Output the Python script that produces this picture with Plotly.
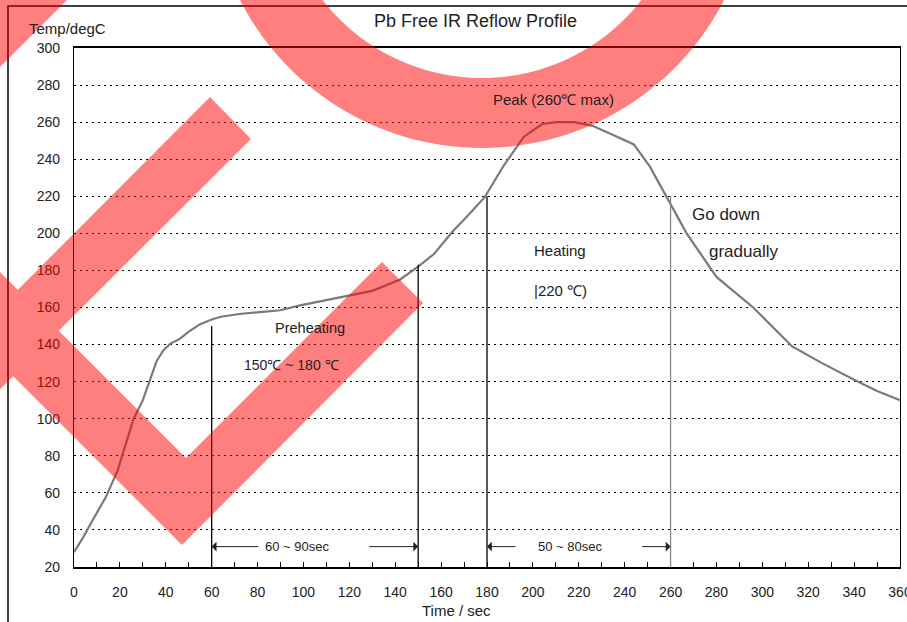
import numpy as np
import plotly.graph_objects as go

# ---- data ----
time_s = [0, 4, 8, 14, 19, 23, 26, 30, 33, 36, 39, 42, 46, 50, 55, 60, 64, 72, 81, 90,
          98, 110, 120, 130, 142, 150, 157, 165, 172, 179, 187, 196, 204, 210, 218,
          226, 235, 244, 251, 258, 267, 280, 296, 313, 326, 340, 350, 360]
temp_c = [28, 36, 45, 58, 72, 88, 100, 110, 120, 131, 137, 140.5, 143, 147, 151, 153.5,
          155, 156.5, 157.5, 158.5, 161, 164, 166.5, 169, 175, 182, 189, 201, 210,
          219.5, 236, 252, 259, 260, 260, 258, 253, 248, 236, 220, 200, 176.5, 160,
          139, 130, 121, 115, 110]

x_ticks = list(range(0, 361, 20))
y_ticks = list(range(20, 301, 20))

zone_x = [60, 150, 180, 260]
zone_top = [150, 183, 220, 220]
zone_color = ["black", "black", "black", "#888888"]

labels = ["Peak (260\u2103 max)", "Preheating", "150\u2103 ~ 180 \u2103", "Heating",
          "|220 \u2103)", "Go down", "gradually"]
label_x = [209, 103, 95, 212, 212, 284, 292]
label_y = [272, 149, 129, 191, 169, 210, 190]
label_size = [15, 14.5, 14, 15, 15, 17, 17]

span_text = ["60 ~ 90sec", "50 ~ 80sec"]
span_text_x = [97, 216]
span_start = [60, 180]
span_end = [150, 260]
span_left_tail = [81, 193]
span_right_tail = [128, 247]
span_y = 31

# ---- geometry ----
W, H = 907, 622
ML, MR, MT, MB = 74, 7, 48, 55
PW, PH = W - ML - MR, H - MT - MB


def px(x):
    return (x - ML) / PW


def py(y):
    return 1 - (y - MT) / PH


def orient(points, ccw):
    a = 0.0
    for (x1, y1), (x2, y2) in zip(points, points[1:] + points[:1]):
        a += x1 * y2 - x2 * y1
    return points if (a > 0) == ccw else points[::-1]


def poly(points):
    return "M " + " L ".join(f"{px(a):.5f},{py(b):.5f}" for a, b in points) + " Z"


fig = go.Figure()
fig.add_trace(go.Scatter(x=time_s, y=temp_c, mode="lines",
                         line=dict(color="#7a7a7a", width=2.2), showlegend=False,
                         hoverinfo="skip"))

shapes = []
for xv, top, col in zip(zone_x, zone_top, zone_color):
    shapes.append(dict(type="line", xref="x", yref="y", x0=xv, x1=xv, y0=20, y1=top,
                       line=dict(color=col, width=1.3)))

# outer frame (top and left edges visible, others off-canvas)
shapes.append(dict(type="rect", xref="paper", yref="paper", x0=px(8), x1=px(960),
                   y0=py(6), y1=py(680), line=dict(color="black", width=1.5),
                   fillcolor="rgba(0,0,0,0)", layer="above"))

FONT = "Liberation Sans, Arial"
annotations = []
for t, xv, yv, s in zip(labels, label_x, label_y, label_size):
    annotations.append(dict(x=xv, y=yv, xref="x", yref="y", text=t, showarrow=False,
                            font=dict(size=s, color="#222222", family=FONT)))
for t, xt, a, b, lt, rt in zip(span_text, span_text_x, span_start, span_end,
                               span_left_tail, span_right_tail):
    annotations.append(dict(x=xt, y=span_y, xref="x", yref="y", text=t, showarrow=False,
                            font=dict(size=13, color="#222222", family=FONT)))
    annotations.append(dict(x=a, y=span_y, ax=lt, ay=span_y, xref="x", yref="y",
                            axref="x", ayref="y", text="", showarrow=True, arrowhead=1,
                            arrowsize=1.6, arrowwidth=1, arrowcolor="#222222"))
    annotations.append(dict(x=b, y=span_y, ax=rt, ay=span_y, xref="x", yref="y",
                            axref="x", ayref="y", text="", showarrow=True, arrowhead=1,
                            arrowsize=1.6, arrowwidth=1, arrowcolor="#222222"))

for t, xx, yy, s in [("Pb Free IR Reflow Profile", 475, 21, 18),
                     ("Temp/degC", 67, 28, 15),
                     ("Time / sec", 456, 610, 15)]:
    annotations.append(dict(x=px(xx), y=py(yy), xref="paper", yref="paper", text=t,
                            showarrow=False, xanchor="center", yanchor="middle",
                            font=dict(size=s, color="#222222", family=FONT)))

# ---- red overlay marks (check + ring) ----
check = orient([(182, 545), (423, 303), (382, 262), (186, 458), (-120, 152), (-120, 243)], True)
stroke = orient([(210, 97), (251, 139), (-120, 509), (-120, 428)], True)
corner = orient([(-50, -50), (117, -50), (-50, 117)], True)
ang = np.linspace(0, 2 * np.pi, 181)[:-1]
cx, cy, R, r = 482, -124, 272, 202
outer = orient([(cx + R * np.cos(a), cy + R * np.sin(a)) for a in ang], True)
inner = orient([(cx + r * np.cos(a), cy + r * np.sin(a)) for a in ang], False)
shapes.append(dict(type="path", xref="paper", yref="paper",
                   path=poly(check) + " " + poly(stroke) + " " + poly(corner),
                   fillcolor="rgba(255,0,0,0.5)", line=dict(width=0), layer="above",
                   fillrule="nonzero"))
shapes.append(dict(type="path", xref="paper", yref="paper",
                   path=poly(outer) + " " + poly(inner),
                   fillcolor="rgba(255,0,0,0.5)", line=dict(width=0), layer="above",
                   fillrule="evenodd"))

fig.update_layout(
    width=W, height=H,
    margin=dict(l=ML, r=MR, t=MT, b=MB, autoexpand=False),
    paper_bgcolor="white", plot_bgcolor="white",
    font=dict(family=FONT, color="#222222", size=14),
    shapes=shapes, annotations=annotations, showlegend=False,
)
fig.update_xaxes(range=[0, 360], tickvals=x_ticks, showgrid=False, zeroline=False,
                 automargin=False, ticklabeloverflow="allow",
                 showline=True, linecolor="black", linewidth=2, mirror=True,
                 ticks="inside", ticklen=5, tickcolor="black",
                 minor=dict(dtick=10, ticks="inside", ticklen=5, tickcolor="black"),
                 tickfont=dict(size=14), ticklabelstandoff=11)
fig.update_yaxes(range=[20, 300], tickvals=y_ticks, showgrid=True, gridcolor="black",
                 griddash="2px,4px", gridwidth=1, zeroline=False, automargin=False,
                 showline=True, linecolor="black", linewidth=1.3, mirror=True,
                 ticks="", tickfont=dict(size=14), ticklabelstandoff=10)

fig.write_html("out.html", config={"displayModeBar": False},
               post_script="document.body.style.margin='0';document.body.style.overflow='hidden';")
